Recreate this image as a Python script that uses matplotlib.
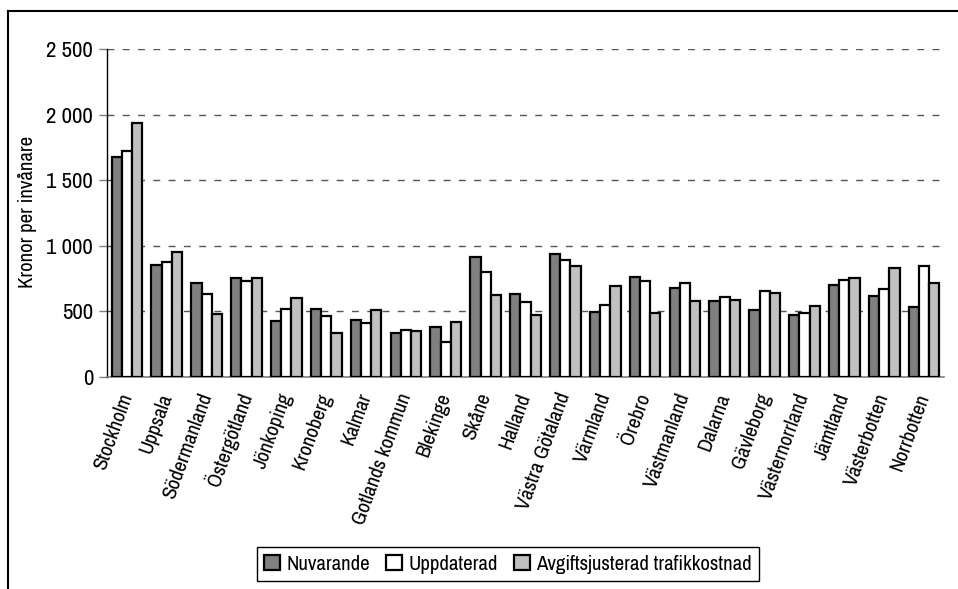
import numpy as np
import matplotlib
matplotlib.use("Agg")
import matplotlib.pyplot as plt
from matplotlib import font_manager as fm
from matplotlib.lines import Line2D
from matplotlib.patches import Patch
from matplotlib.ticker import FuncFormatter

# smal typsnitt om det finns, annars DejaVu Sans
smala = [f for f in fm.fontManager.ttflist
         if ("Narrow" in f.name or "Condensed" in f.name
             or f.stretch in ("condensed", "semi-condensed", "extra-condensed"))
         and "italic" not in f.style and f.weight in (400, "normal", "regular")]
if smala:
    smala.sort(key=lambda f: (0 if "Liberation" in f.name else 1, f.name))
    fp = fm.FontProperties(fname=smala[0].fname)
else:
    fp = fm.FontProperties(family="DejaVu Sans")
FS = 15

# Län och kostnad per invånare
lan = ["Stockholm", "Uppsala", "Södermanland", "Östergötland", "Jönkoping",
       "Kronoberg", "Kalmar", "Gotlands kommun", "Blekinge", "Skåne", "Halland",
       "Västra Götaland", "Värmland", "Örebro", "Västmanland", "Dalarna",
       "Gävleborg", "Västernorrland", "Jämtland", "Västerbotten", "Norrbotten"]
nuvarande = [1675, 850, 716, 751, 429, 520, 436, 339, 383, 911, 630,
             936, 497, 760, 676, 577, 508, 469, 704, 620, 531]
uppdaterad = [1726, 878, 629, 731, 515, 464, 411, 360, 265, 801, 569,
              890, 546, 730, 719, 607, 653, 485, 742, 668, 844]
avgiftsjusterad = [1934, 952, 477, 754, 599, 339, 510, 349, 421, 622, 469,
                   849, 691, 485, 577, 587, 643, 541, 753, 827, 719]

serier = ["Nuvarande", "Uppdaterad", "Avgiftsjusterad trafikkostnad"]
farger = ["#808080", "#ffffff", "#c0c0c0"]

fig = plt.figure(figsize=(9.58, 5.89), dpi=100)
ax = fig.add_axes([107/958, 1-377/589, (944-107)/958, (377-49)/589])

x = np.arange(len(lan))
w = 0.256
for i, (vals, c) in enumerate(zip([nuvarande, uppdaterad, avgiftsjusterad], farger)):
    ax.bar(x + (i - 1)*w, vals, w, color=c, edgecolor="black", linewidth=1.6, zorder=3)

ax.set_xlim(-0.5, len(lan) - 0.5)
ax.set_ylim(0, 2500)
ax.set_yticks(np.arange(0, 2501, 500))
ax.yaxis.set_major_formatter(FuncFormatter(lambda v, p: f"{v:,.0f}".replace(",", " ")))
ax.yaxis.grid(True, linestyle=(0, (5, 6)), color="#555555", linewidth=1.0, zorder=0)
ax.tick_params(axis="y", direction="out", length=6, width=1, color="#808080", pad=4)
for t in ax.get_yticklabels():
    t.set_fontproperties(fp)
    t.set_fontsize(FS + 1.5)

ax.set_xticks(x)
ax.set_xticklabels(lan, rotation=70, ha="right", va="center", rotation_mode="anchor")
for t in ax.get_xticklabels():
    t.set_fontproperties(fp)
    t.set_fontsize(FS)
ax.tick_params(axis="x", length=0, pad=12)

for s in ["top", "right"]:
    ax.spines[s].set_visible(False)
ax.spines["left"].set_color("black")
ax.spines["left"].set_linewidth(1.0)
ax.spines["bottom"].set_color("#808080")
ax.spines["bottom"].set_linewidth(1.2)

fig.text(28/958, 1-212/589, "Kronor per invånare", rotation=90, ha="center",
         va="center", fontproperties=fp, fontsize=FS)

handles = [Patch(facecolor=c, edgecolor="black", linewidth=1.6) for c in farger]
leg_fp = fp.copy()
leg_fp.set_size(FS)
leg = fig.legend(handles, serier, loc="center", bbox_to_anchor=(508/958, 1-564/589),
                 ncol=3, prop=leg_fp, fancybox=False, edgecolor="black",
                 handlelength=0.75, handleheight=0.75, handletextpad=0.3,
                 columnspacing=0.8, borderpad=0.35, framealpha=1)
leg.get_frame().set_linewidth(1.0)

# ram runt diagrammet (höger och nedre kant utanför bilden)
fig.add_artist(Line2D([8/958, 8/958], [0, 1-11/589], color="black", linewidth=1.5))
fig.add_artist(Line2D([8/958, 1], [1-11/589, 1-11/589], color="black", linewidth=1.5))

fig.savefig("out.png", dpi=100)
